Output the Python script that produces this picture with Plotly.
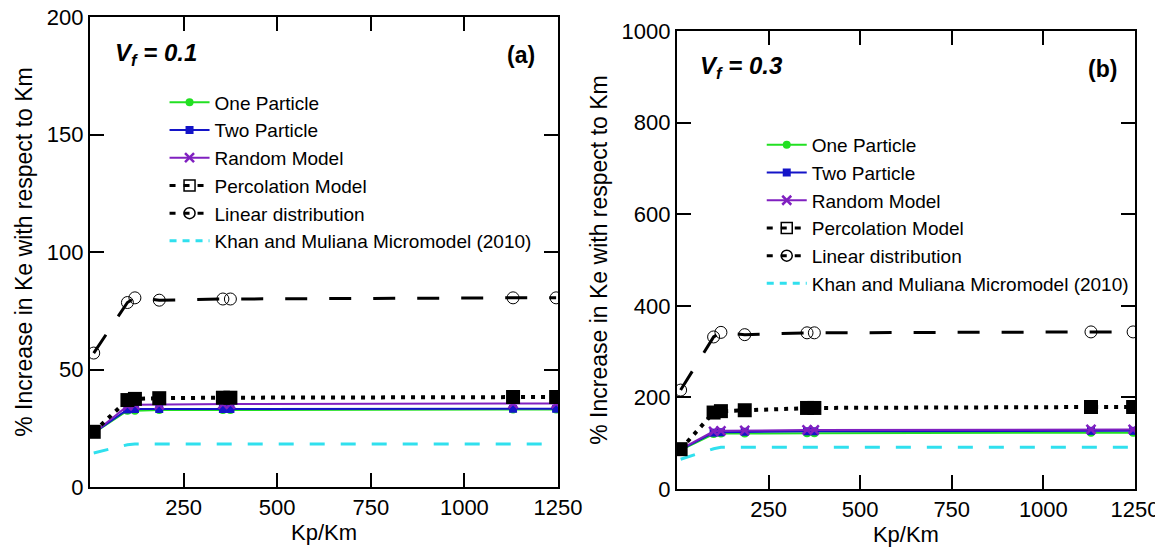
import plotly.graph_objects as go

kp = [10, 100, 120, 185, 355, 375, 1130, 1245]

# Panel (a) Vf = 0.1
one_a = [23, 32.5, 32.5, 32.8, 32.8, 32.8, 33, 33]
two_a = [23, 33, 33.2, 33.2, 33.2, 33.2, 33.3, 33.3]
rand_a = [23, 34.5, 35, 35, 35.3, 35.3, 35.5, 35.5]
perc_a = [23.5, 37, 37.5, 37.8, 38, 38, 38.3, 38.3]
lin_a = [57, 78.5, 80.5, 79.5, 80, 80, 80.5, 80.5]
khan_a = [14.5, 18, 18.3, 18.3, 18.3, 18.3, 18.3, 18.3]

# Panel (b) Vf = 0.3
one_b = [85, 120, 121, 121, 122, 122, 123, 123]
two_b = [86, 123, 124, 125, 126, 126, 127, 127]
rand_b = [87, 126, 127, 128, 129, 129, 130, 130]
perc_b = [87, 167, 170, 172, 177, 177, 179, 179]
lin_b = [216, 332, 342, 337, 341, 341, 343, 343]
khan_b = [65, 88, 91, 91, 91, 91, 91, 91]

names = ["One Particle", "Two Particle", "Random Model", "Percolation Model",
         "Linear distribution", "Khan and Muliana Micromodel (2010)"]

GREEN = "#22E022"
BLUE = "#1414C8"
PURPLE = "#8020C0"
CYAN = "#30E0EE"
FONT = "Arial, Liberation Sans, sans-serif"

fig = go.Figure()

def add_panel(xa, ya, leg, one, two, rand, perc, lin, khan):
    fig.add_trace(go.Scatter(x=kp, y=khan, mode="lines", name=names[5], showlegend=False,
                             line=dict(color=CYAN, width=3, dash="15px,16px"),
                             xaxis=xa, yaxis=ya))
    fig.add_trace(go.Scatter(x=kp, y=lin, mode="lines+markers", name=names[4], showlegend=False,
                             line=dict(color="black", width=3, dash="22px,22px"),
                             marker=dict(symbol="circle-open", size=12, color="black", line=dict(width=1)),
                             xaxis=xa, yaxis=ya))
    fig.add_trace(go.Scatter(x=kp, y=one, mode="lines+markers", name=names[0],
                             line=dict(color=GREEN, width=2),
                             marker=dict(symbol="circle", size=8, color=GREEN),
                             xaxis=xa, yaxis=ya, legend=leg, legendrank=1))
    fig.add_trace(go.Scatter(x=kp, y=two, mode="lines+markers", name=names[1],
                             line=dict(color=BLUE, width=2),
                             marker=dict(symbol="square", size=8, color=BLUE),
                             xaxis=xa, yaxis=ya, legend=leg, legendrank=2))
    fig.add_trace(go.Scatter(x=kp, y=rand, mode="lines+markers", name=names[2],
                             line=dict(color=PURPLE, width=2),
                             marker=dict(symbol="x-thin", size=9, color=PURPLE,
                                         line=dict(width=2.5, color=PURPLE)),
                             xaxis=xa, yaxis=ya, legend=leg, legendrank=3))
    fig.add_trace(go.Scatter(x=kp, y=perc, mode="lines+markers", name=names[3], showlegend=False,
                             line=dict(color="black", width=4, dash="4px,6px"),
                             marker=dict(symbol="square", size=14, color="black"),
                             xaxis=xa, yaxis=ya))
    # legend-only entries styled like the reference legend
    fig.add_trace(go.Scatter(x=[None], y=[None], mode="lines+markers", name=names[3],
                             line=dict(color="black", width=3, dash="6px,8px"),
                             marker=dict(symbol="square-open", size=11, color="black", line=dict(width=1.5)),
                             xaxis=xa, yaxis=ya, legend=leg, legendrank=4))
    fig.add_trace(go.Scatter(x=[None], y=[None], mode="lines+markers", name=names[4],
                             line=dict(color="black", width=3, dash="6px,8px"),
                             marker=dict(symbol="circle-open", size=11, color="black", line=dict(width=1.5)),
                             xaxis=xa, yaxis=ya, legend=leg, legendrank=5))
    fig.add_trace(go.Scatter(x=[None], y=[None], mode="lines", name=names[5],
                             line=dict(color=CYAN, width=3, dash="7px,6px"),
                             xaxis=xa, yaxis=ya, legend=leg, legendrank=6))

add_panel("x", "y", "legend", one_a, two_a, rand_a, perc_a, lin_a, khan_a)
add_panel("x2", "y2", "legend2", one_b, two_b, rand_b, perc_b, lin_b, khan_b)

axis_common = dict(showline=True, linecolor="black", linewidth=2, mirror="ticks",
                   ticks="inside", ticklen=14, tickwidth=2, tickcolor="black",
                   showgrid=False, zeroline=False, automargin=False,
                   ticklabeloverflow="allow",
                   tickfont=dict(family=FONT, size=22, color="black"))
xt = [250, 500, 750, 1000, 1250]
ytitle = "% Increase in Ke with respect to Km"

fig.update_layout(
    width=1163, height=555,
    margin=dict(l=0, r=0, t=0, b=0, autoexpand=False),
    paper_bgcolor="white", plot_bgcolor="white",
    font=dict(family=FONT, color="black"),
    xaxis=dict(domain=[0.0705, 0.4729], range=[0, 1250], tickvals=xt, anchor="y",
               title=dict(text="Kp/Km", font=dict(size=22), standoff=2), **axis_common),
    yaxis=dict(domain=[0.1369, 0.9838], range=[0, 200], tickvals=[0, 50, 100, 150, 200], anchor="x",
               title=dict(text=ytitle, font=dict(size=23), standoff=8), **axis_common),
    xaxis2=dict(domain=[0.5752, 0.9690], range=[0, 1250], tickvals=xt, anchor="y2",
                title=dict(text="Kp/Km", font=dict(size=22), standoff=2), **axis_common),
    yaxis2=dict(domain=[0.1333, 0.9586], range=[0, 1000], tickvals=[0, 200, 400, 600, 800, 1000], anchor="x2",
                title=dict(text=ytitle, font=dict(size=23), standoff=8), **axis_common),
    legend=dict(x=0.1346, y=0.864, xanchor="left", yanchor="top", bgcolor="rgba(0,0,0,0)",
                font=dict(size=19, family=FONT), tracegroupgap=0, itemwidth=40),
    legend2=dict(x=0.6481, y=0.7874, xanchor="left", yanchor="top", bgcolor="rgba(0,0,0,0)",
                 font=dict(size=19, family=FONT), tracegroupgap=0, itemwidth=40),
    annotations=[
        dict(text="<b><i>V<sub>f</sub> = 0.1</i></b>", x=0.0903, y=0.917, xref="paper", yref="paper",
             xanchor="left", yanchor="middle", showarrow=False, font=dict(size=24)),
        dict(text="<b>(a)</b>", x=0.455, y=0.915, xref="paper", yref="paper",
             xanchor="right", yanchor="middle", showarrow=False, font=dict(size=23)),
        dict(text="<b><i>V<sub>f</sub> = 0.3</i></b>", x=0.5933, y=0.892, xref="paper", yref="paper",
             xanchor="left", yanchor="middle", showarrow=False, font=dict(size=24)),
        dict(text="<b>(b)</b>", x=0.9553, y=0.89, xref="paper", yref="paper",
             xanchor="right", yanchor="middle", showarrow=False, font=dict(size=23)),
    ],
)

fig.write_html("out.html")
